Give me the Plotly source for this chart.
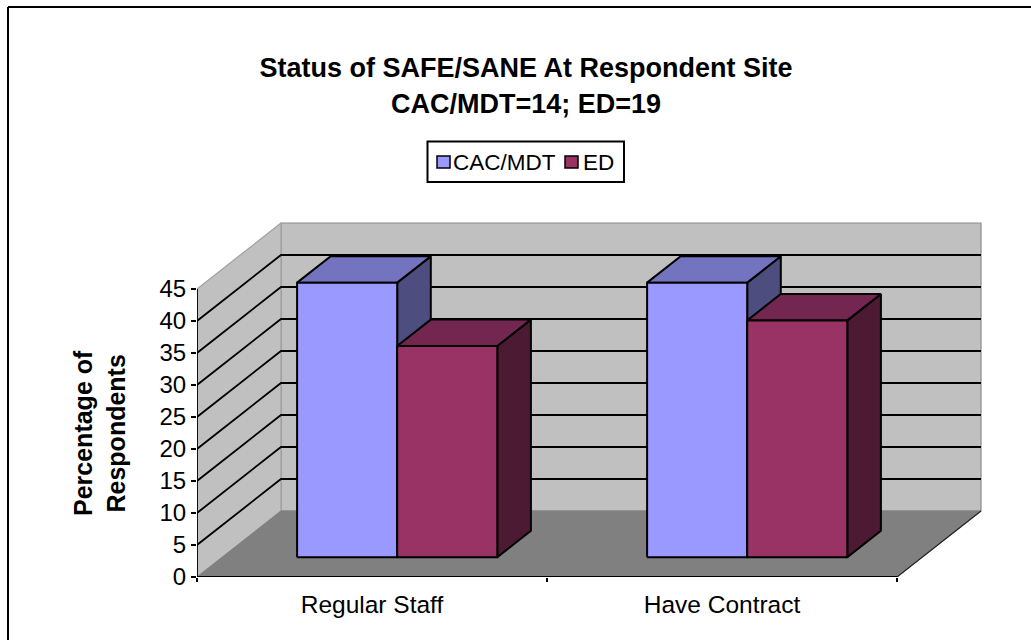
import plotly.graph_objects as go

CATEGORIES = ["Regular Staff", "Have Contract"]
SERIES = ["CAC/MDT", "ED"]
CAC_MDT = [42.9, 42.9]
ED = [33.0, 37.0]
Y_TICKS = [0, 5, 10, 15, 20, 25, 30, 35, 40, 45]

FRONT = {"CAC/MDT": "#9999FF", "ED": "#993366"}
TOP = {"CAC/MDT": "#7373BF", "ED": "#732650"}
SIDE = {"CAC/MDT": "#4D4D80", "ED": "#4D1A33"}

W, H = 1031, 640
ML, MR, MT, MB = 197, 49, 222, 63
PW, PH = W - ML - MR, H - MT - MB
PX_X = 350.0   # px per category
PX_Y = 6.4     # px per percent
DX = 84 / PX_X  # oblique shift of the full depth, in x units
DY = 66 / PX_Y  # ... in y units
D0, D1 = 0.30, 0.70   # depth span of the bars
GAP = 0.214
BW = (1 - 2 * GAP) / 2
YMAX = 45


def P(x, y, d=0.0):
    return x + d * DX, y + d * DY


def poly(points):
    xs, ys = zip(*points)
    return list(xs) + [xs[0]], list(ys) + [ys[0]]


def px(x):
    return (x - ML) / PW


def py(y):
    return (H - MB - y) / PH


fig = go.Figure()


def face(points, fill, line="black", width=2):
    x, y = poly(points)
    fig.add_trace(go.Scatter(x=x, y=y, mode="lines", fill="toself", fillcolor=fill,
                             line=dict(color=line, width=width), showlegend=False,
                             hoverinfo="skip", cliponaxis=False))


n = len(CATEGORIES)
# walls and floor
face([P(0, 0, 1), P(n, 0, 1), P(n, YMAX, 1), P(0, YMAX, 1)], "#C0C0C0", "#8C8C8C", 1.2)
face([P(0, 0, 0), P(0, 0, 1), P(0, YMAX, 1), P(0, YMAX, 0)], "#C0C0C0", "#A0A0A0", 1.2)
face([P(0, 0, 0), P(n, 0, 0), P(n, 0, 1), P(0, 0, 1)], "#808080", "#808080", 1)

# gridlines
gx, gy = [], []
for v in Y_TICKS[1:-1]:
    for p in (P(0, v, 0), P(0, v, 1), P(n, v, 1)):
        gx.append(p[0]); gy.append(p[1])
    gx.append(None); gy.append(None)
fig.add_trace(go.Scatter(x=gx, y=gy, mode="lines", line=dict(color="black", width=1.8),
                         showlegend=False, hoverinfo="skip", cliponaxis=False))

# floor outer edge
ex, ey = zip(P(n, 0, 0), P(n, 0, 1))
fig.add_trace(go.Scatter(x=ex, y=ey, mode="lines", line=dict(color="#222222", width=1.2),
                         showlegend=False, hoverinfo="skip", cliponaxis=False))

# bars
for c in range(n):
    for s, vals in enumerate((CAC_MDT, ED)):
        name = SERIES[s]
        v = vals[c]
        x0 = c + GAP + s * BW
        x1 = x0 + BW
        face([P(x1, 0, D0), P(x1, 0, D1), P(x1, v, D1), P(x1, v, D0)], SIDE[name])
        face([P(x0, v, D0), P(x1, v, D0), P(x1, v, D1), P(x0, v, D1)], TOP[name])
        face([P(x0, 0, D0), P(x1, 0, D0), P(x1, v, D0), P(x0, v, D0)], FRONT[name])

# axis lines
fig.add_trace(go.Scatter(x=[0, 0, n], y=[YMAX, 0, 0], mode="lines",
                         line=dict(color="black", width=1.8), showlegend=False,
                         hoverinfo="skip", cliponaxis=False))

FONT = "Liberation Sans, Arial, sans-serif"


def rect(x0, y0, x1, y1, fill, lw, layer="above"):
    return dict(type="rect", xref="paper", yref="paper", x0=px(x0), x1=px(x1), y0=py(y1), y1=py(y0),
                fillcolor=fill, line=dict(color="black", width=lw), layer=layer)


def seg(x0, y0, x1, y1):
    return dict(type="line", xref="paper", yref="paper", x0=px(x0), x1=px(x1), y0=py(y0), y1=py(y1),
                line=dict(color="black", width=2), layer="below")


shapes = [
    seg(8, 7, W, 7), seg(8, 7, 8, H),
    rect(427.5, 141.5, 624, 182, "white", 2),
    rect(437, 156, 450, 168, FRONT["CAC/MDT"], 1.5),
    rect(565, 156, 578, 168, FRONT["ED"], 1.5),
]

annotations = [
    dict(text=SERIES[0], xref="paper", yref="paper", x=px(453), y=py(162), xanchor="left", yanchor="middle",
         showarrow=False, font=dict(size=22.5), xshift=-2),
    dict(text=SERIES[1], xref="paper", yref="paper", x=px(583), y=py(162), xanchor="left", yanchor="middle",
         showarrow=False, font=dict(size=22.5), xshift=-2),
    dict(text="<b>Percentage of<br>Respondents</b>", xref="paper", yref="paper", x=px(99), y=py(433),
         xanchor="center", yanchor="middle", textangle=-90, showarrow=False, font=dict(size=25)),
]

fig.update_layout(
    width=W, height=H, autosize=False, showlegend=False,
    margin=dict(l=ML, r=MR, t=MT, b=MB, autoexpand=False),
    paper_bgcolor="white", plot_bgcolor="white",
    font=dict(family=FONT, color="black", size=24),
    title=dict(text="<b>Status of SAFE/SANE At Respondent Site<br>CAC/MDT=14; ED=19</b>",
               font=dict(size=27, family=FONT), x=526 / W, xanchor="center",
               y=0.879, yanchor="middle"),
    xaxis=dict(range=[0, PW / PX_X], showgrid=False, zeroline=False, showline=False,
               tickmode="array", tickvals=[i + 0.5 for i in range(n)], ticktext=CATEGORIES,
               ticks="", ticklabelstandoff=10, tickfont=dict(size=24.5),
               minor=dict(tickmode="array", tickvals=[0, 1, 2], ticks="outside", ticklen=4,
                          tickcolor="black", tickwidth=2, showgrid=False)),
    yaxis=dict(range=[0, PH / PX_Y], showgrid=False, zeroline=False, showline=False,
               tickmode="array", tickvals=Y_TICKS, ticks="outside", ticklen=5,
               tickcolor="black", tickwidth=1.5, tickfont=dict(size=24)),
    shapes=shapes, annotations=annotations,
)

fig.write_html("out.html", post_script="document.body.style.margin='0';",
               config={"displayModeBar": False})
